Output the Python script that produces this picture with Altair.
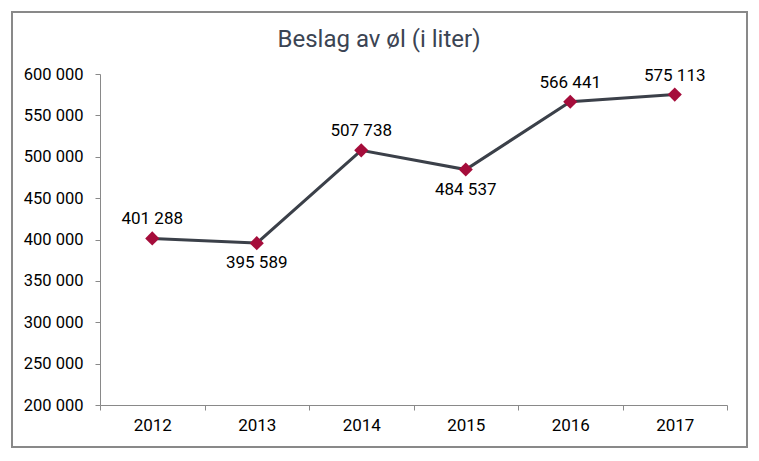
import altair as alt
import pandas as pd

years = ["2012", "2013", "2014", "2015", "2016", "2017"]
values = [401288, 395589, 507738, 484537, 566441, 575113]
label_side = ["above", "below", "above", "below", "above", "above"]
y_ticks = [200000, 250000, 300000, 350000, 400000, 450000, 500000, 550000, 600000]
title_text = "Beslag av øl (i liter)"

df = pd.DataFrame({"year": years, "value": values, "side": label_side})
df["label"] = df["value"].map(lambda v: f"{v:,}".replace(",", " "))

FONT = "Roboto"
GRAY = "#898989"

x_enc = alt.X(
    "year:N",
    bandPosition=0.5,
    scale=alt.Scale(type="band", paddingInner=0, paddingOuter=0),
    axis=alt.Axis(
        title=None, labelAngle=0, tickBand="extent", grid=False,
        domainColor=GRAY, tickColor=GRAY, tickSize=5, labelPadding=7,
        labelFontSize=17, labelColor="#000000", labelFont=FONT,
    ),
)
y_enc = alt.Y(
    "value:Q",
    scale=alt.Scale(domain=[200000, 600000], nice=False, zero=False),
    axis=alt.Axis(
        title=None, values=y_ticks, grid=False,
        labelExpr="replace(format(datum.value, ','), ',', ' ')",
        domainColor=GRAY, tickColor=GRAY, tickSize=5, labelPadding=12,
        labelFontSize=16.5, labelColor="#000000", labelFont=FONT,
    ),
)

base = alt.Chart(df)

line = base.mark_line(color="#3b4049", strokeWidth=3).encode(x=x_enc, y=y_enc)
points = base.mark_point(shape="diamond", filled=True, size=200, color="#a50d3b", opacity=1).encode(x=x_enc, y=y_enc)

above = base.transform_filter(alt.datum.side == "above").mark_text(
    dy=-19, fontSize=17, font=FONT, color="#000000"
).encode(x=x_enc, y=y_enc, text="label:N")
below = base.transform_filter(alt.datum.side == "below").mark_text(
    dy=20, fontSize=17, font=FONT, color="#000000"
).encode(x=x_enc, y=y_enc, text="label:N")

frame = alt.Chart(pd.DataFrame({"a": [0]})).mark_rect(
    fillOpacity=0, stroke=GRAY, strokeWidth=2
).encode(
    x=alt.value(-88), x2=alt.value(647), y=alt.value(-62), y2=alt.value(373)
)

title = alt.Chart(pd.DataFrame({"t": [title_text]})).mark_text(
    fontSize=24, font=FONT, color="#3b4453", baseline="alphabetic", align="center"
).encode(x=alt.value(279), y=alt.value(-27), text="t:N")

chart = alt.layer(frame, title, line, points, above, below).properties(
    width=627,
    height=331,
    autosize=alt.AutoSizeParams(type="none"),
    padding={"left": 92, "top": 66, "right": 21, "bottom": 44},
).configure_view(stroke=None)

chart.save("out.html", embed_options={"renderer": "svg", "actions": False})
